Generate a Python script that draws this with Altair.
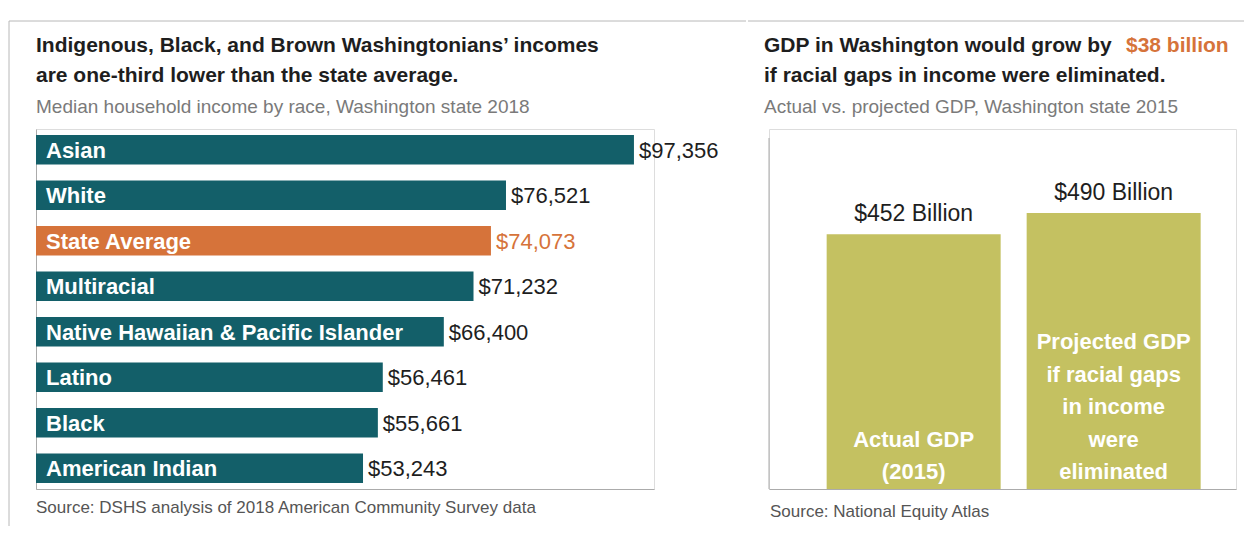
import altair as alt
import pandas as pd

# ---------------- data ----------------
races = ["Asian", "White", "State Average", "Multiracial",
         "Native Hawaiian & Pacific Islander", "Latino", "Black", "American Indian"]
incomes = [97356, 76521, 74073, 71232, 66400, 56461, 55661, 53243]

gdp_keys = ["Actual", "Projected"]
gdp_values = [452, 490]
gdp_value_labels = ["$452 Billion", "$490 Billion"]
gdp_inside = [["Actual GDP", "(2015)"],
              ["Projected GDP", "if racial gaps", "in income", "were", "eliminated"]]

left_title = ["Indigenous, Black, and Brown Washingtonians\u2019 incomes",
              "are one-third lower than the state average."]
left_sub = "Median household income by race, Washington state 2018"
left_src = "Source: DSHS analysis of 2018 American Community Survey data"
right_title_a = "GDP in Washington would grow by"
right_title_b = "$38 billion"
right_title_c = "if racial gaps in income were eliminated."
right_sub = "Actual vs. projected GDP, Washington state 2015"
right_src = "Source: National Equity Atlas"

# ---------------- style ----------------
FONT = "Liberation Sans, Arial, sans-serif"
TEAL = "#135f69"
ORANGE = "#d6733a"
OLIVE = "#c4c161"
DARK = "#1e1e1e"
GREY = "#7a7a7a"
AXIS = "#ababab"
FRAME = "#b8b8b8"

inc_df = pd.DataFrame({"race": races, "income": incomes})
gdp_df = pd.DataFrame({"key": gdp_keys, "value": gdp_values,
                       "vlabel": gdp_value_labels})
line_rows = []
for key, lines in zip(gdp_keys, gdp_inside):
    n = len(lines)
    for i, ln in enumerate(lines):
        line_rows.append({"key": key, "line": ln, "k": n - 1 - i})
lines_df = pd.DataFrame(line_rows)
one = pd.DataFrame({"a": [0]})


def txt(s, x, y, size, color=DARK, weight="normal", align="left"):
    return alt.Chart(one).mark_text(
        text=s, align=align, baseline="alphabetic", font=FONT,
        fontSize=size, fontWeight=weight, color=color
    ).encode(x=alt.value(x), y=alt.value(y))


def rule(x, x2, y, y2, color=FRAME):
    return alt.Chart(one).mark_rule(color=color, strokeWidth=1).encode(
        x=alt.value(x), x2=alt.value(x2), y=alt.value(y), y2=alt.value(y2))


# ---------------- left panel ----------------
is_avg = alt.datum.race == "State Average"
ysc = alt.Y("race:N", sort=races,
            scale=alt.Scale(paddingInner=0.35, paddingOuter=0.13),
            axis=alt.Axis(labels=False, ticks=False, title=None, grid=False,
                          domainColor=AXIS))
xsc = alt.X("income:Q", scale=alt.Scale(domain=[0, 100620], nice=False),
            axis=alt.Axis(labels=False, ticks=False, title=None, grid=False,
                          domainColor=AXIS))

bars = alt.Chart(inc_df).mark_bar().encode(
    x=xsc, y=ysc,
    color=alt.condition(is_avg, alt.value(ORANGE), alt.value(TEAL)))
names = alt.Chart(inc_df).mark_text(
    align="left", baseline="middle", font=FONT, fontSize=22,
    fontWeight="bold", color="white", dy=1
).encode(x=alt.value(10), y=alt.Y("race:N", sort=races), text="race:N")
vals = alt.Chart(inc_df).mark_text(
    align="left", baseline="middle", font=FONT, fontSize=22, dx=5, dy=1
).encode(x="income:Q", y=alt.Y("race:N", sort=races),
         text=alt.Text("income:Q", format="$,.0f"),
         color=alt.condition(is_avg, alt.value(ORANGE), alt.value(DARK)))

left = alt.layer(
    rule(-27, 710, -108, -108),
    rule(-27, -27, -108, 397),
    txt(left_title[0], 0, -77, 21, weight="bold"),
    txt(left_title[1], 0, -47, 21, weight="bold"),
    txt(left_sub, 0, -16, 19, color=GREY),
    bars, names, vals,
    txt(left_src, 0, 384, 17, color="#555555"),
).properties(width=618, height=360)

# ---------------- right panel ----------------
gx = alt.X("key:N", sort=gdp_keys,
           scale=alt.Scale(paddingInner=0.13, paddingOuter=0.2325, align=0.62),
           axis=alt.Axis(labels=False, ticks=False, title=None, grid=False,
                         domainColor=AXIS))
gy = alt.Y("value:Q", scale=alt.Scale(domain=[0, 639], nice=False),
           axis=alt.Axis(labels=False, ticks=False, title=None, grid=False,
                         domain=False))

gbars = alt.Chart(gdp_df).mark_bar(color=OLIVE).encode(x=gx, y=gy)
gvals = alt.Chart(gdp_df).mark_text(
    align="center", baseline="alphabetic", font=FONT, fontSize=23,
    color=DARK, dy=-13
).encode(x=alt.X("key:N", sort=gdp_keys), y="value:Q", text="vlabel:N")

inside_layers = []
for k in range(5):
    inside_layers.append(
        alt.Chart(lines_df).transform_filter(alt.datum.k == k).mark_text(
            align="center", baseline="bottom", font=FONT, fontSize=22,
            fontWeight="bold", color="white", dy=-5 - 32.5 * k
        ).encode(x=alt.X("key:N", sort=gdp_keys), y=alt.datum(0), text="line:N")
    )

right = alt.layer(
    rule(-21, 475, -108, -108),
    rule(0, 0, 9, 360, color=AXIS),
    txt(right_title_a, -5, -77, 21, weight="bold"),
    txt(right_title_b, 357, -77, 21, color=ORANGE, weight="bold"),
    txt(right_title_c, -5, -47, 21, weight="bold"),
    txt(right_sub, -5, -16, 19, color=GREY),
    gbars, gvals, *inside_layers,
    txt(right_src, 1, 388, 17, color="#555555"),
).properties(width=467, height=360)

chart = alt.hconcat(left, right, spacing=0).properties(
    padding={"left": 0, "top": 12, "right": 0, "bottom": 0}
).configure_view(stroke=None).configure(background="white")

chart.save("out.html", embed_options={"renderer": "svg", "actions": False})
